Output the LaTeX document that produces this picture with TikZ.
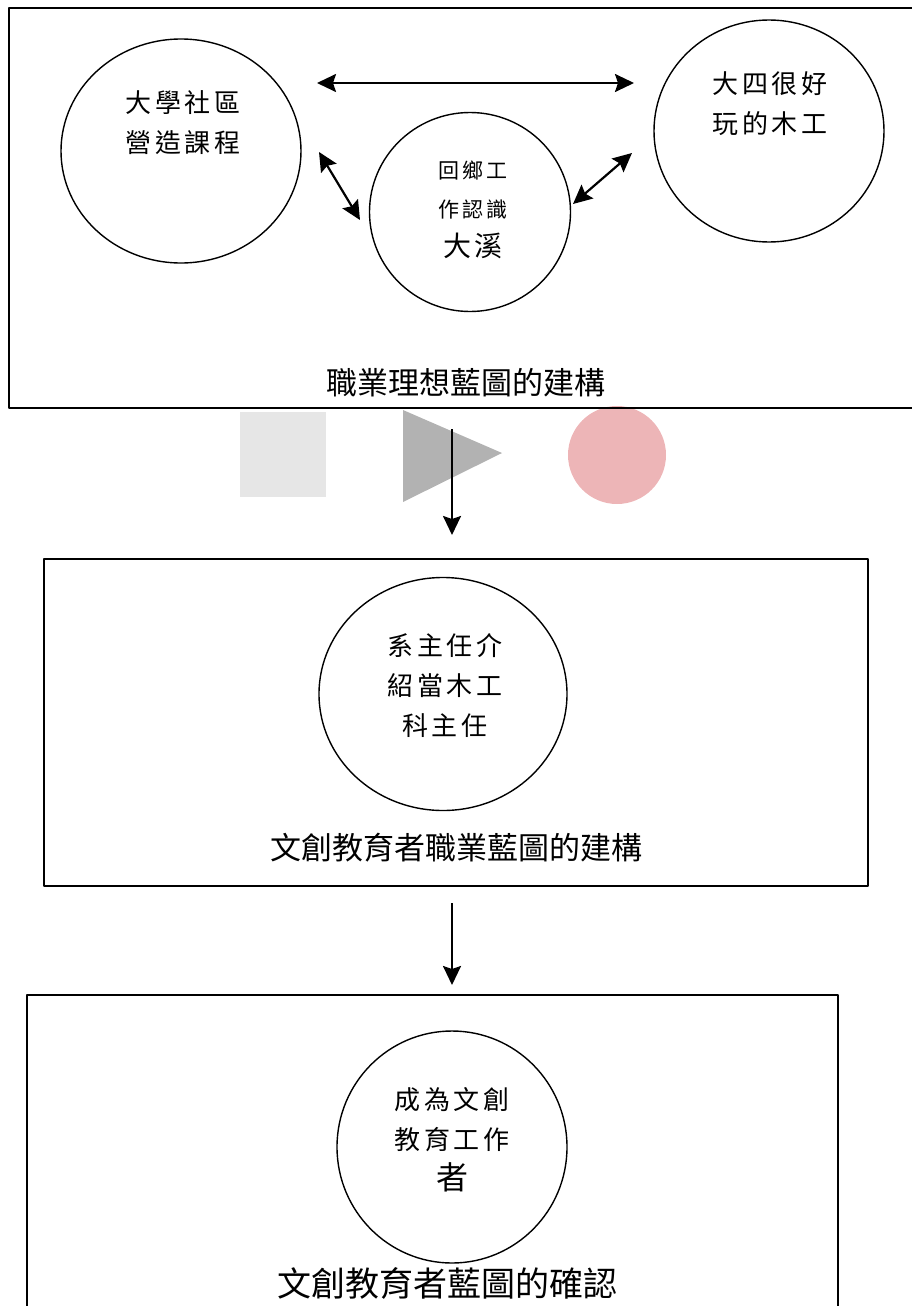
\documentclass[tikz,border=0pt]{standalone}
\usepackage{fontspec}
\newfontfamily\cjk{Noto Sans CJK TC}
\newfontfamily\cjkwide[LetterSpace=14]{Noto Sans CJK TC}
\usetikzlibrary{shapes.geometric,arrows.meta}
\definecolor{lightgrey}{HTML}{E6E6E6}
\definecolor{midgrey}{HTML}{B2B2B2}
\definecolor{rosepink}{HTML}{EDB5B7}
\tikzset{
  frame/.style={draw,rectangle,line width=1.4pt,inner sep=0pt},
  bubble/.style={draw,ellipse,line width=1.4pt,inner sep=0pt},
  bubtext/.style={align=center,inner sep=0pt,font=\cjkwide\fontsize{26}{40}\selectfont},
  caption/.style={inner sep=0pt,font=\cjk\fontsize{31}{36}\selectfont},
  link/.style={<->,line width=2.2pt},
  flow/.style={->,line width=2.2pt}
}
\begin{document}
\begin{tikzpicture}[>={Stealth[length=19pt,width=18pt,inset=3pt]},x=1pt,y=-1pt,line join=round]
	\useasboundingbox (0,0) rectangle (912,1306);
	\clip (0,0) rectangle (912,1306);
	% marks between the first two frames
	\fill[lightgrey] (240,412) rectangle (326,497);
	\fill[midgrey] (403,410)--(502,453)--(403,502)--cycle;
	\fill[rosepink] (617,455) circle(49);
	% frames
	\node[frame,minimum width=906,minimum height=400] (stage1) at (462,208) {};
	\node[frame,minimum width=824,minimum height=327] (stage2) at (456,722.5) {};
	\node[frame,minimum width=811,minimum height=335] (stage3) at (432.5,1162.5) {};
	\node[caption] (cap1) at (466,383) {職業理想藍圖的建構};
	\node[caption] (cap2) at (456,848) {文創教育者職業藍圖的建構};
	\node[caption,font=\cjk\fontsize{34}{38}\selectfont] (cap3) at (447,1283) {文創教育者藍圖的確認};
	% first frame
	\node[bubble,minimum width=240,minimum height=224] (course) at (181,151) {};
	\node[bubble,minimum width=230,minimum height=222] (woodfun) at (769,131) {};
	\node[bubble,minimum width=201,minimum height=199] (hometown) at (470,212) {};
	\node[bubtext] (coursetext) at (183,123) {大學社區\\營造課程};
	\node[bubtext] (woodfuntext) at (770,104) {大四很好\\玩的木工};
	\node[bubtext,font=\cjkwide\fontsize{21}{39}\selectfont] (hometowntext) at (473,210) {回鄉工\\作認識\\{\fontsize{28}{39}\selectfont 大溪}};
	\coordinate (hA) at (317,83); \coordinate (hB) at (634,83);
	\coordinate (lA) at (319,152); \coordinate (lB) at (360,220);
	\coordinate (rA) at (632,153); \coordinate (rB) at (573,204);
	\draw[link] (hA)--(hB);
	\draw[link] (lA)--(lB);
	\draw[link] (rA)--(rB);
	% second frame
	\node[bubble,minimum width=248,minimum height=233] (chief) at (443,694) {};
	\node[bubtext] (chieftext) at (445,685) {系主任介\\紹當木工\\科主任};
	% third frame
	\node[bubble,minimum width=230,minimum height=232] (educator) at (452,1147) {};
	\node[bubtext] (educatortext) at (452,1140) {成為文創\\教育工作\\{\fontsize{32}{40}\selectfont 者}};
	% flow between frames
	\coordinate (d1A) at (452,429); \coordinate (d1B) at (452,535);
	\coordinate (d2A) at (452,903); \coordinate (d2B) at (452,985);
	\draw[flow] (d1A)--(d1B);
	\draw[flow] (d2A)--(d2B);
\end{tikzpicture}
\end{document}
